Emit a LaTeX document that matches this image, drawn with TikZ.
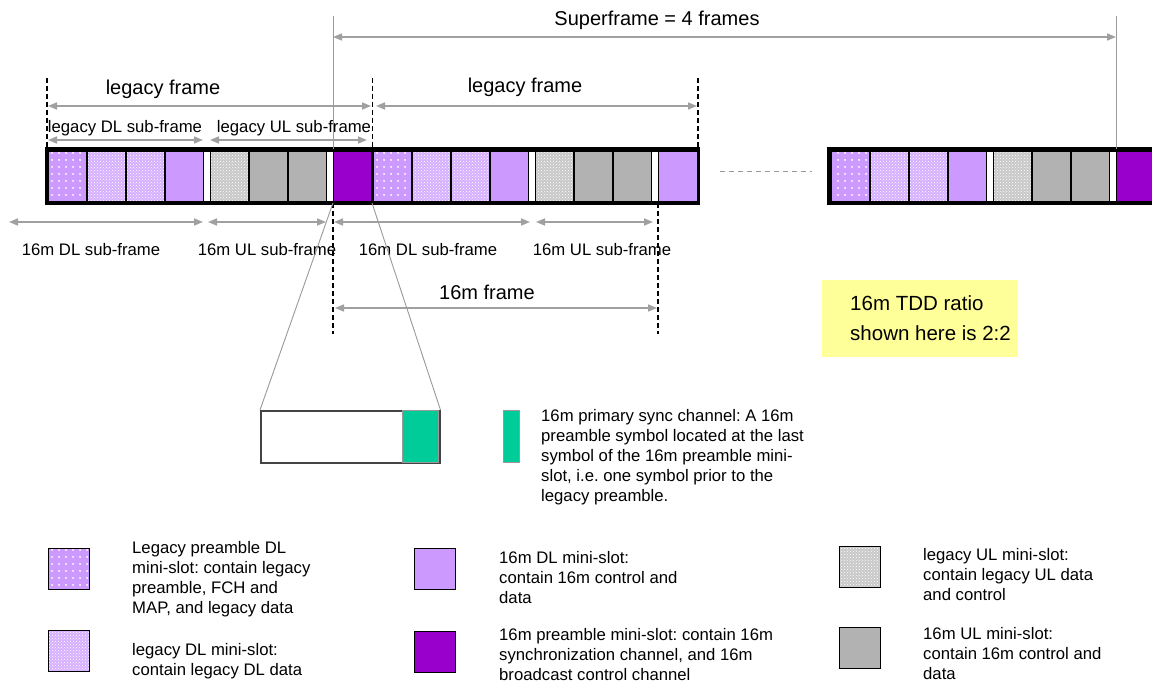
\documentclass[tikz,border=0pt]{standalone}
\usepackage{fontspec}
\setmainfont{Liberation Sans}
\usetikzlibrary{arrows.meta,patterns,patterns.meta}
\definecolor{lav}{HTML}{CC99FF}
\definecolor{lavlt}{HTML}{D6B0FF}
\definecolor{purp}{HTML}{9900CC}
\definecolor{mulgray}{HTML}{B2B2B2}
\definecolor{lulgray}{HTML}{C8C8C8}
\definecolor{syncgreen}{HTML}{00CC99}
\definecolor{arrgray}{HTML}{A0A0A0}
\definecolor{linegray}{HTML}{999999}
\definecolor{dkgray}{HTML}{444444}
\definecolor{noteyellow}{HTML}{FFFF99}
\frenchspacing
\newcommand\myframe[2]{%
  \path[lpre] (#1,151) rectangle ++(38,50);
  \path[ldl] (#1+39,151) rectangle ++(38,50);
  \path[ldl] (#1+78,151) rectangle ++(38,50);
  \path[mdl] (#1+117,151) rectangle ++(38,50);
  \path[gapc] (#1+155,151) rectangle ++(7,50);
  \path[lul] (#1+162,151) rectangle ++(38,50);
  \path[mul] (#1+201,151) rectangle ++(38,50);
  \path[mul] (#1+240,151) rectangle ++(38,50);
  \path[gapc] (#1+278,151) rectangle ++(7,50);
  \path[#2] (#1+285,151) rectangle ++(39,50);
}
\begin{document}
\begin{tikzpicture}[x=1pt,y=-1pt,
  dim/.style={draw=arrgray, line width=1.6pt, {Triangle[length=9pt,width=7pt]}-{Triangle[length=9pt,width=7pt]}},
  vdash/.style={draw=black, line width=1.3pt, dash pattern=on 5pt off 3pt},
  thinl/.style={draw=linegray, line width=0.9pt},
  lbl/.style={font=\fontsize{16.7}{20}\selectfont\frenchspacing, inner sep=0pt, anchor=base},
  biglbl/.style={font=\fontsize{20}{24}\selectfont\frenchspacing, inner sep=0pt, anchor=base},
  legtxt/.style={font=\fontsize{16.7}{20}\selectfont\frenchspacing, inner sep=0pt, align=left, anchor=north west},
  cellb/.style={draw=black, line width=0.9pt},
  dotpat/.style={preaction={fill=lav}, pattern={Dots[distance=6.5pt,radius=1.1pt]}, pattern color=white},
  lpre/.style={cellb, dotpat},
  ldl/.style={cellb, preaction={fill=lavlt}, pattern=crosshatch dots, pattern color=white},
  mdl/.style={cellb, fill=lav},
  lul/.style={cellb, preaction={fill=lulgray}, pattern=crosshatch dots, pattern color=white},
  mul/.style={cellb, fill=mulgray},
  mpre/.style={cellb, fill=purp},
  gapc/.style={cellb, fill=white},
  legbox/.style={draw=black, line width=1.2pt, minimum width=41pt, minimum height=41pt, inner sep=0pt, anchor=north west},
]
\useasboundingbox (0,0) rectangle (1152,682);
\clip (0,0) rectangle (1152,682);

% ---------- frames ----------
\myframe{48}{mpre}
\myframe{373}{mdl}
\myframe{831}{mpre}
\draw[line width=3.5pt] (46.5,149) rectangle (698.5,203);
\draw[line width=3pt] (372.5,149) -- (372.5,203);
\draw[line width=3.5pt] (829,149) rectangle (1170,203);
\coordinate (sepL) at (720,172);
\coordinate (sepR) at (812,172);
\draw[draw=linegray, line width=1pt, dash pattern=on 5pt off 4pt] (sepL) -- (sepR);

% ---------- superframe ----------
\coordinate (sfTopL) at (333,16);
\coordinate (sfBotL) at (333,149);
\coordinate (sfTopR) at (1116,16);
\coordinate (sfBotR) at (1116,149);
\draw[thinl] (sfTopL) -- (sfBotL);
\draw[thinl] (sfTopR) -- (sfBotR);
\coordinate (sfL) at (333,37);
\coordinate (sfR) at (1116,37);
\draw[dim] (sfL) -- (sfR);
\node[biglbl] (sfT) at (657,26) {Superframe = 4 frames};

% ---------- legacy frame markers ----------
\coordinate (d1t) at (47,78);   \coordinate (d1b) at (47,149);
\coordinate (d2t) at (372.5,78); \coordinate (d2b) at (372.5,149);
\coordinate (d3t) at (698,78);  \coordinate (d3b) at (698,149);
\draw[vdash] (d1t) -- (d1b);
\draw[vdash] (d2t) -- (d2b);
\draw[vdash] (d3t) -- (d3b);

\coordinate (lf1L) at (48,106);  \coordinate (lf1R) at (371,106);
\coordinate (lf2L) at (376,106); \coordinate (lf2R) at (697,106);
\draw[dim] (lf1L) -- (lf1R);
\draw[dim] (lf2L) -- (lf2R);
\node[biglbl] (lf1T) at (163,95) {legacy frame};
\node[biglbl] (lf2T) at (525,93) {legacy frame};

\coordinate (ldlL) at (48,140);  \coordinate (ldlR) at (203,140);
\coordinate (lulL) at (210,140); \coordinate (lulR) at (367,140);
\draw[dim] (ldlL) -- (ldlR);
\draw[dim] (lulL) -- (lulR);
\node[lbl] (ldlT) at (125,133) {legacy DL sub-frame};
\node[lbl] (lulT) at (294,133) {legacy UL sub-frame};

% ---------- 16m sub-frames ----------
\coordinate (m1L) at (9,222);   \coordinate (m1R) at (203,222);
\coordinate (m2L) at (208,222); \coordinate (m2R) at (326,222);
\coordinate (m3L) at (334,222); \coordinate (m3R) at (530,222);
\coordinate (m4L) at (536,222); \coordinate (m4R) at (653,222);
\draw[dim] (m1L) -- (m1R);
\draw[dim] (m2L) -- (m2R);
\draw[dim] (m3L) -- (m3R);
\draw[dim] (m4L) -- (m4R);
\node[lbl] (m1T) at (91,255) {16m DL sub-frame};
\node[lbl] (m2T) at (267,255) {16m UL sub-frame};
\node[lbl] (m3T) at (428,255) {16m DL sub-frame};
\node[lbl] (m4T) at (602,255) {16m UL sub-frame};

\coordinate (d4t) at (333,203); \coordinate (d4b) at (333,334);
\coordinate (d5t) at (658,203); \coordinate (d5b) at (658,334);
\draw[vdash] (d4t) -- (d4b);
\draw[vdash] (d5t) -- (d5b);
\coordinate (mfL) at (335,308); \coordinate (mfR) at (657,308);
\draw[dim] (mfL) -- (mfR);
\node[biglbl] (mfT) at (487,299) {16m frame};

% ---------- magnified preamble slot ----------
\node[draw=dkgray, line width=1.5pt, minimum width=179pt, minimum height=52pt, inner sep=0pt, anchor=north west] (zbox) at (260,410) {};
\node[fill=syncgreen, draw=linegray, line width=1pt, minimum width=36pt, minimum height=52pt, inner sep=0pt, anchor=north east] (zgreen) at (439,410) {};
\coordinate (zsL) at (333,203);
\coordinate (zsR) at (372,203);
\draw[thinl] (zsL) -- (zbox.north west);
\draw[thinl] (zsR) -- (zbox.north east);

\node[fill=syncgreen, draw=linegray, line width=1pt, minimum width=16pt, minimum height=52pt, inner sep=0pt, anchor=north west] (gleg) at (503,410) {};
\node[legtxt] (gtxt) at (541,409) {16m primary sync channel: A 16m\\preamble symbol located at the last\\symbol of the 16m preamble mini-\\slot, i.e. one symbol prior to the\\legacy preamble.};

% ---------- TDD note ----------
\node[fill=noteyellow, minimum width=196pt, minimum height=77pt, inner sep=0pt, anchor=north west] (tdd) at (822,280) {};
\node[font=\fontsize{20.5}{30}\selectfont, align=left, anchor=west, inner sep=0pt] (tddT) at (850,318) {16m TDD ratio\\shown here is 2:2};

% ---------- legend ----------
\node[legbox, dotpat] (k1) at (48,548) {};
\node[legtxt] (k1t) at (132,541) {Legacy preamble DL\\mini-slot: contain legacy\\preamble, FCH and\\MAP, and legacy data};
\node[legbox, preaction={fill=lavlt}, pattern=crosshatch dots, pattern color=white] (k2) at (48,630) {};
\node[legtxt] (k2t) at (132,643) {legacy DL mini-slot:\\contain legacy DL data};
\node[legbox, fill=lav] (k3) at (414,548) {};
\node[legtxt] (k3t) at (499,551) {16m DL mini-slot:\\contain 16m control and\\data};
\node[legbox, fill=purp] (k4) at (414,631) {};
\node[legtxt] (k4t) at (499,628) {16m preamble mini-slot: contain 16m\\synchronization channel, and 16m\\broadcast control channel};
\node[legbox, preaction={fill=lulgray}, pattern=crosshatch dots, pattern color=white] (k5) at (839,546) {};
\node[legtxt] (k5t) at (923,548) {legacy UL mini-slot:\\contain legacy UL data\\and control};
\node[legbox, fill=mulgray] (k6) at (839,627) {};
\node[legtxt] (k6t) at (923,627) {16m UL mini-slot:\\contain 16m control and\\data};
\end{tikzpicture}
\end{document}
